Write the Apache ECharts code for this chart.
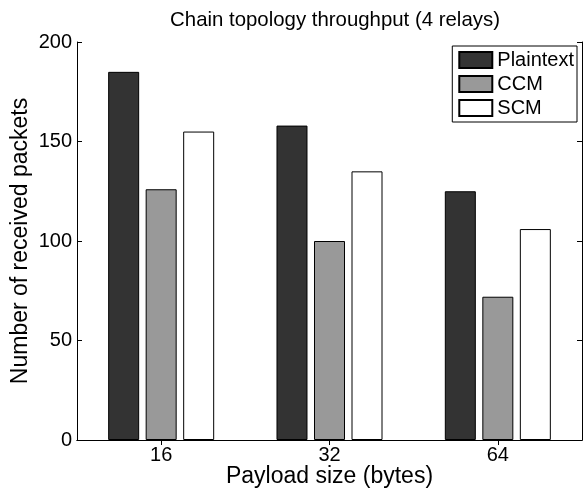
<!DOCTYPE html>
<html>
<head>
<meta charset="utf-8">
<script src="https://cdn.jsdelivr.net/npm/echarts@6/dist/echarts.min.js"></script>
<style>
html,body{margin:0;padding:0;background:#fff;}
#chart{width:584px;height:488px;}
</style>
</head>
<body>
<div id="chart"></div>
<script>
const categories = ['16', '32', '64'];
const plaintext = [185, 158, 125];
const ccm = [126, 100, 72];
const scm = [155, 135, 106];
const seriesNames = ['Plaintext', 'CCM', 'SCM'];
const yTicks = [0, 50, 100, 150, 200];

const FONT = 'Liberation Sans, Arial, Helvetica, sans-serif';
const chart = echarts.init(document.getElementById('chart'), null, {renderer: 'canvas'});

const axisLine = {show: true, lineStyle: {color: '#000', width: 1}};
const tick = {show: true, inside: true, length: 5, lineStyle: {color: '#000'}};

function barSeries(name, data, color) {
  return {
    name: name,
    type: 'bar',
    data: data,
    barWidth: 31,
    barGap: '21%',
    xAxisIndex: 0,
    yAxisIndex: 0,
    itemStyle: {color: color, borderColor: '#000', borderWidth: 1},
    emphasis: {disabled: true},
    animation: false
  };
}

chart.setOption({
  animation: false,
  backgroundColor: '#fff',
  title: {
    text: 'Chain topology throughput (4 relays)',
    left: 330,
    top: 5,
    textAlign: 'center',
    textStyle: {fontFamily: FONT, fontSize: 20.4, fontWeight: 'normal', color: '#000'}
  },
  legend: {
    orient: 'vertical',
    right: 7,
    top: 46,
    icon: 'rect',
    itemWidth: 33,
    itemHeight: 16,
    itemGap: 4,
    padding: [4, 3, 4, 6],
    backgroundColor: '#fff',
    borderColor: '#000',
    borderWidth: 1,
    borderRadius: 0,
    textStyle: {fontFamily: FONT, fontSize: 20, color: '#000'},
    data: seriesNames
  },
  grid: {left: 77, right: 2, top: 42, bottom: 48, containLabel: false, outerBoundsMode: 'none'},
  xAxis: [
    {
      type: 'category',
      data: categories,
      position: 'bottom',
      axisLine: axisLine,
      axisTick: Object.assign({alignWithLabel: true}, tick),
      axisLabel: {fontFamily: FONT, fontSize: 20, color: '#000', margin: 5},
      name: 'Payload size (bytes)',
      nameLocation: 'middle',
      nameGap: 25,
      nameMoveOverlap: false,
      nameTextStyle: {fontFamily: FONT, fontSize: 23, color: '#000', verticalAlign: 'top'},
      splitLine: {show: false}
    },
    {
      type: 'category',
      data: categories,
      position: 'top',
      axisLine: axisLine,
      axisTick: Object.assign({alignWithLabel: true}, tick),
      axisLabel: {show: false},
      splitLine: {show: false}
    }
  ],
  yAxis: [
    {
      type: 'value',
      min: 0,
      max: 200,
      interval: 50,
      position: 'left',
      axisLine: axisLine,
      axisTick: tick,
      axisLabel: {fontFamily: FONT, fontSize: 20, color: '#000', margin: 5,
        formatter: function (v) { return yTicks.indexOf(v) >= 0 ? String(v) : ''; }},
      name: 'Number of received packets',
      nameLocation: 'middle',
      nameGap: 45,
      nameMoveOverlap: false,
      nameTextStyle: {fontFamily: FONT, fontSize: 23, color: '#000'},
      splitLine: {show: false}
    },
    {
      type: 'value',
      min: 0,
      max: 200,
      interval: 50,
      position: 'right',
      axisLine: axisLine,
      axisTick: tick,
      axisLabel: {show: false},
      splitLine: {show: false}
    }
  ],
  series: [
    barSeries(seriesNames[0], plaintext, '#333333'),
    barSeries(seriesNames[1], ccm, '#999999'),
    barSeries(seriesNames[2], scm, '#ffffff')
  ]
});
</script>
</body>
</html>
